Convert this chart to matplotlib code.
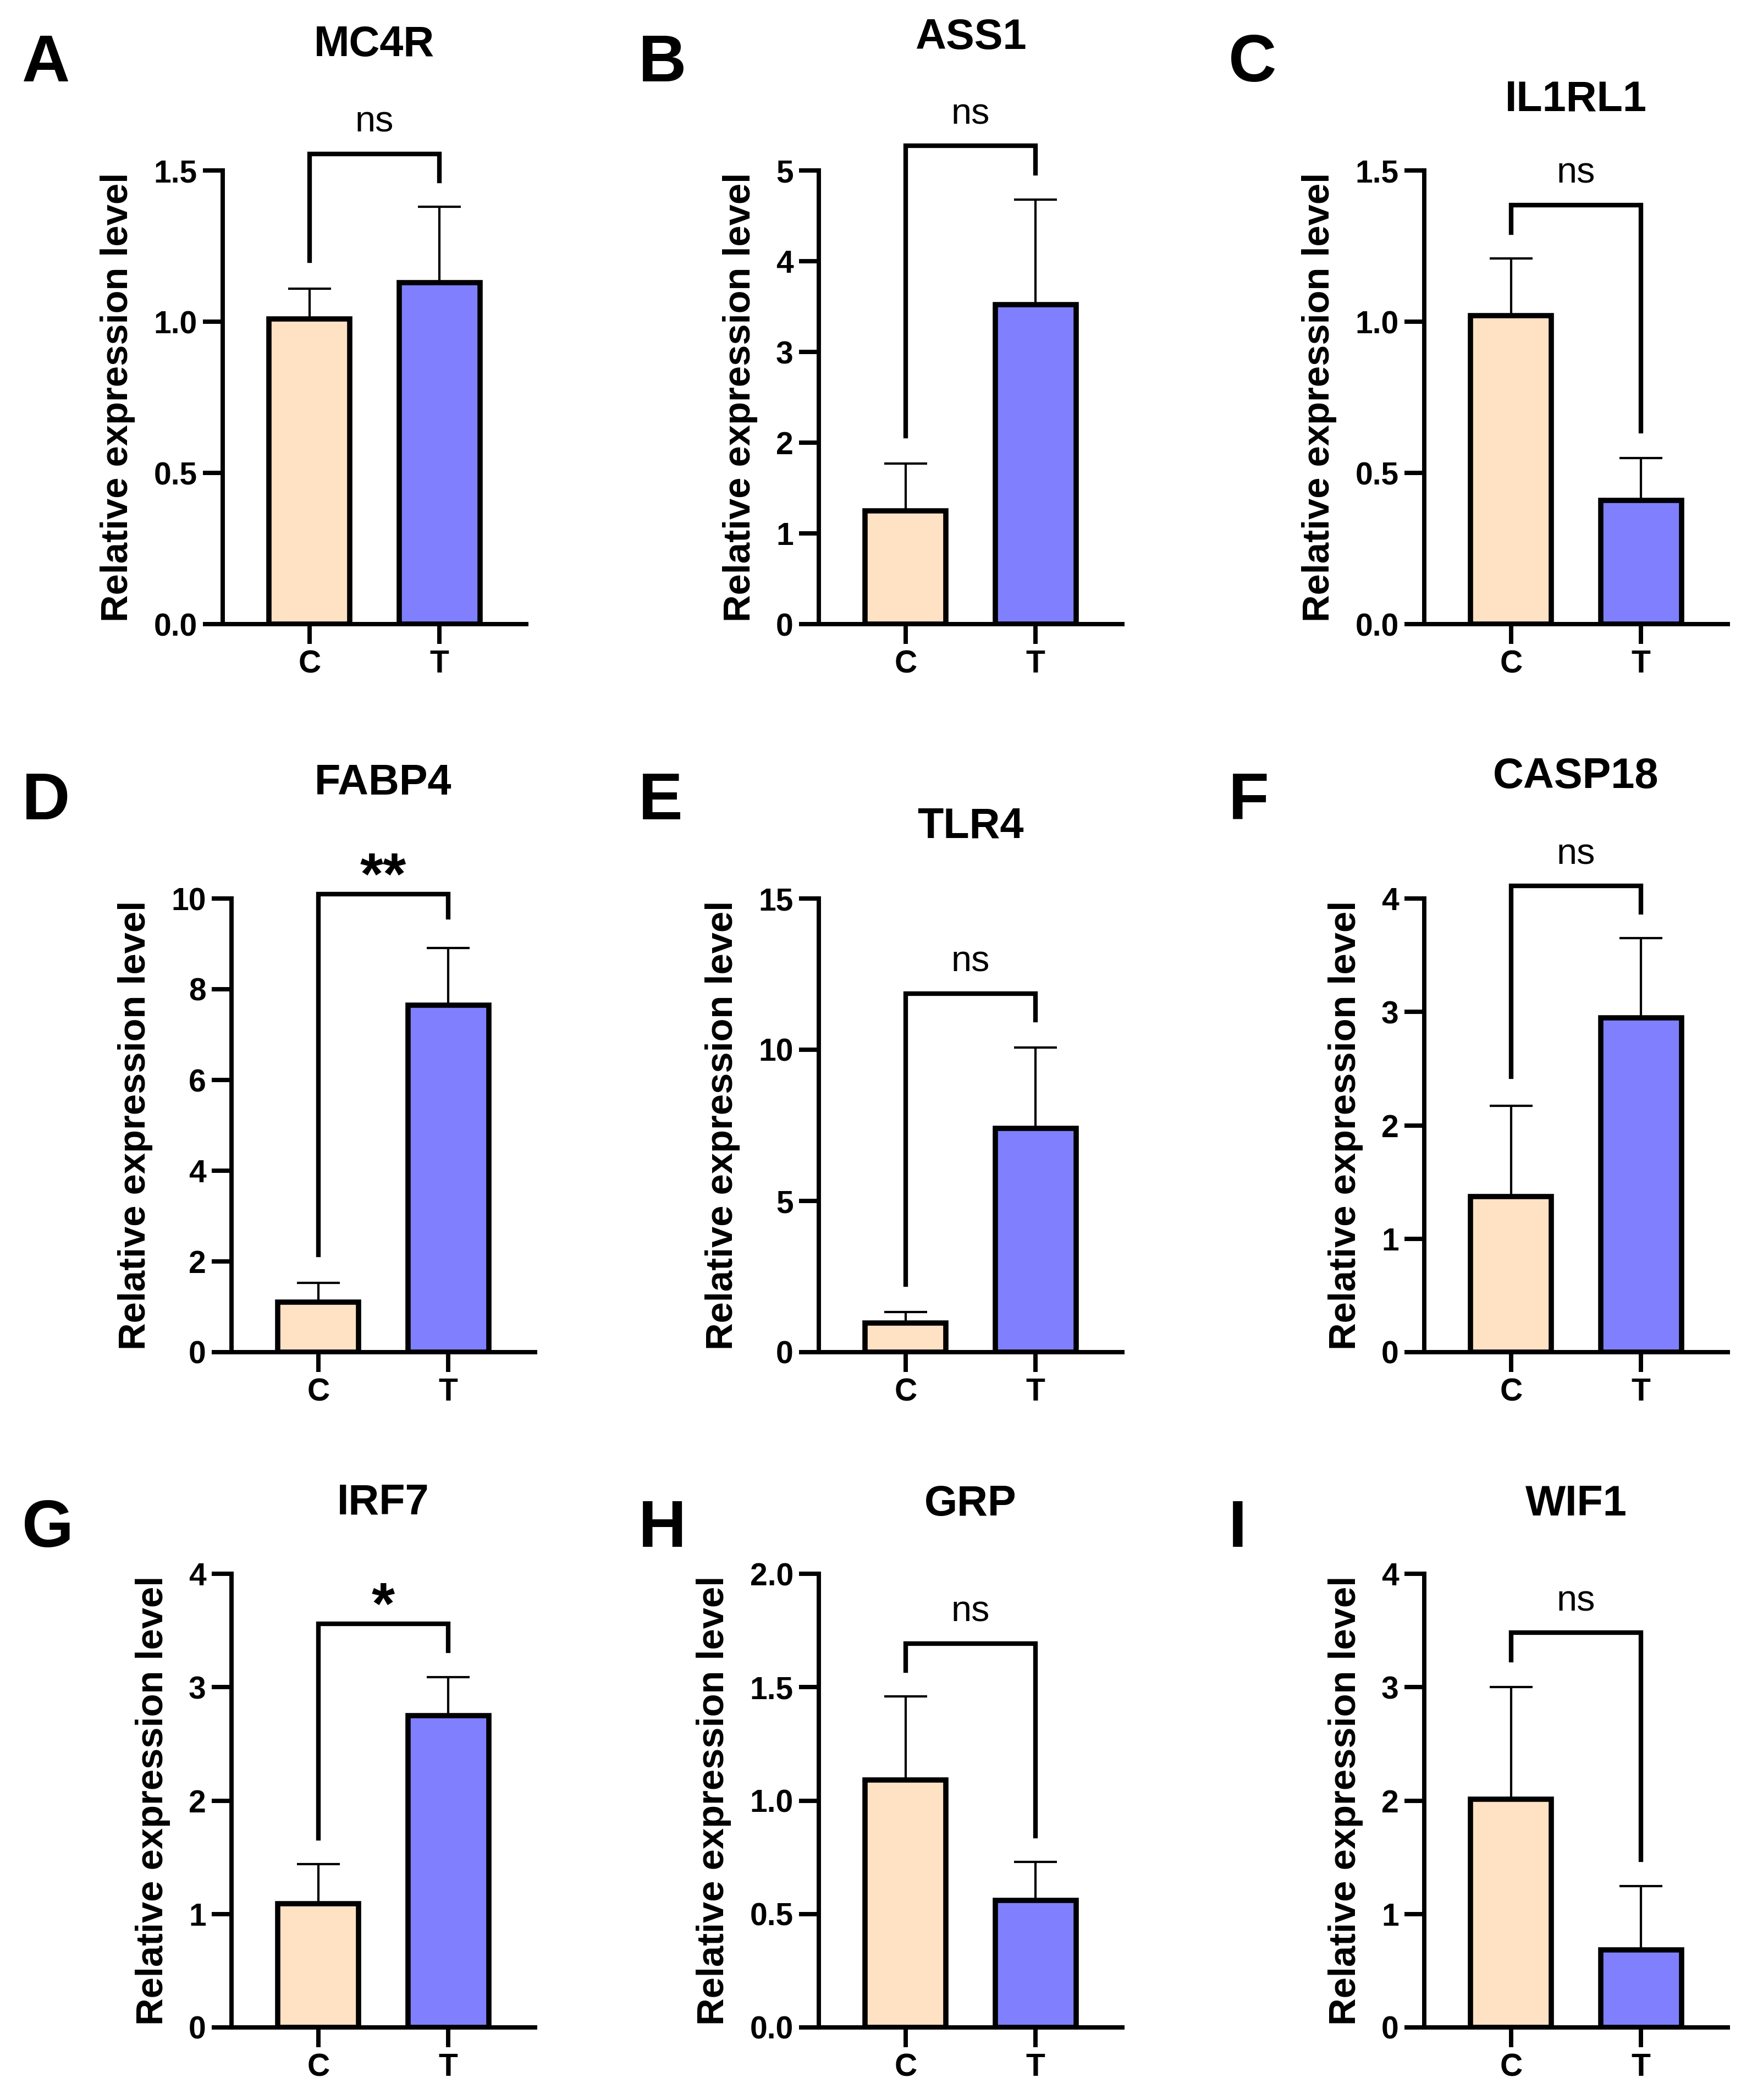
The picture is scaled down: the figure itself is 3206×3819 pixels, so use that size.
import matplotlib
matplotlib.use('Agg')
import matplotlib.pyplot as plt
import numpy as np

# ---------------- data ----------------
genes = ['MC4R', 'ASS1', 'IL1RL1', 'FABP4', 'TLR4', 'CASP18', 'IRF7', 'GRP', 'WIF1']
letters = ['A', 'B', 'C', 'D', 'E', 'F', 'G', 'H', 'I']
groups = ['C', 'T']
c_mean = [1.01, 1.25, 1.02, 1.10, 0.97, 1.37, 1.09, 1.09, 2.01]
c_err = [0.10, 0.52, 0.19, 0.43, 0.36, 0.80, 0.35, 0.37, 0.99]
t_mean = [1.13, 3.52, 0.41, 7.65, 7.40, 2.95, 2.75, 0.56, 0.685]
t_err = [0.25, 1.16, 0.14, 1.26, 2.67, 0.70, 0.34, 0.17, 0.56]
y_max = [1.5, 5, 1.5, 10, 15, 4, 4, 2.0, 4]
y_step = [0.5, 1, 0.5, 2, 5, 1, 1, 0.5, 1]
sig = ['ns', 'ns', 'ns', '**', 'ns', 'ns', '*', 'ns', 'ns']
bracket_top = [1.555, 5.27, 1.386, 10.1, 11.86, 4.11, 3.56, 1.693, 3.48]
bracket_c_end = [1.202, 2.07, 1.295, 2.14, 2.24, 2.43, 1.67, 1.573, 3.24]
bracket_t_end = [1.466, 4.97, 0.639, 9.59, 10.98, 3.88, 3.32, 0.844, 1.48]

# ---------------- layout (pixels) ----------------
W, H = 3206, 3819
DPI = 300
col_left = [[405, 1489, 2590], [421, 1489, 2590], [421, 1489, 2590]]
row_top = [310, 1634, 2862]
AX_W, AX_H = 552, 825
title_base = [[102, 89, 201], [1445, 1523, 1433], [2754, 2756, 2756]]
letter_x = [40, 1161, 2234]
letter_base = [148, 1490, 2813]

C_FILL = '#FFE1C4'
T_FILL = '#8080FF'

plt.rcParams['font.family'] = ['Liberation Sans', 'DejaVu Sans']

fig = plt.figure(figsize=(W / DPI, H / DPI), dpi=DPI)

for i in range(9):
    r, c = divmod(i, 3)
    left = col_left[r][c]
    top = row_top[r]
    ax = fig.add_axes([left / W, 1 - (top + AX_H) / H, AX_W / W, AX_H / H])
    x = np.arange(2)
    ax.errorbar(x, [c_mean[i], t_mean[i]], yerr=[[0, 0], [c_err[i], t_err[i]]],
                fmt='none', ecolor='black', elinewidth=1.0, capsize=9.4,
                capthick=1.0, zorder=1)
    ax.bar(x, [c_mean[i], t_mean[i]], width=0.62, color=[C_FILL, T_FILL],
           edgecolor='black', linewidth=2.3, zorder=2)
    ax.set_xlim(-0.667, 1.667)
    ax.set_ylim(0, y_max[i])
    ticks = np.arange(0, y_max[i] + y_step[i] / 2, y_step[i])
    ax.set_yticks(ticks)
    dec = 1 if y_step[i] < 1 else 0
    ax.set_yticklabels([f'{t:.{dec}f}' for t in ticks])
    ax.set_xticks(x)
    ax.set_xticklabels(groups)
    for s in ['top', 'right']:
        ax.spines[s].set_visible(False)
    for s in ['left', 'bottom']:
        ax.spines[s].set_linewidth(1.9)
    ax.tick_params(axis='both', direction='out', length=8.6, width=1.9,
                   labelsize=13.7, pad=2.5)
    for lab in ax.get_xticklabels() + ax.get_yticklabels():
        lab.set_fontweight('bold')
    ax.set_ylabel('Relative expression level', fontsize=16.5,
                  fontweight='bold', labelpad=8)

    # significance bracket
    bt = bracket_top[i]
    ax.plot([0, 0, 1, 1], [bracket_c_end[i], bt, bt, bracket_t_end[i]],
            color='black', linewidth=2.0, clip_on=False, zorder=3,
            solid_joinstyle='miter')
    if sig[i] == 'ns':
        ax.annotate('ns', xy=(0.5, bt), xytext=(0, 9.6),
                    textcoords='offset points', ha='center', va='baseline',
                    fontsize=16, annotation_clip=False)
    else:
        ax.annotate(sig[i], xy=(0.5, bt), xytext=(0, 0),
                    textcoords='offset points', ha='center', va='baseline',
                    fontsize=26, fontweight='bold', annotation_clip=False)

    # title
    frac = (top + AX_H - title_base[r][c]) / AX_H
    ax.text(0.5, frac, genes[i], transform=ax.get_xaxis_transform(),
            ha='center', va='baseline', fontsize=18.6, fontweight='bold')

    # panel letter
    fig.text(letter_x[c] / W, 1 - letter_base[r] / H, letters[i],
             ha='left', va='baseline', fontsize=29, fontweight='bold')

fig.savefig('out.png', dpi=DPI, facecolor='white')
